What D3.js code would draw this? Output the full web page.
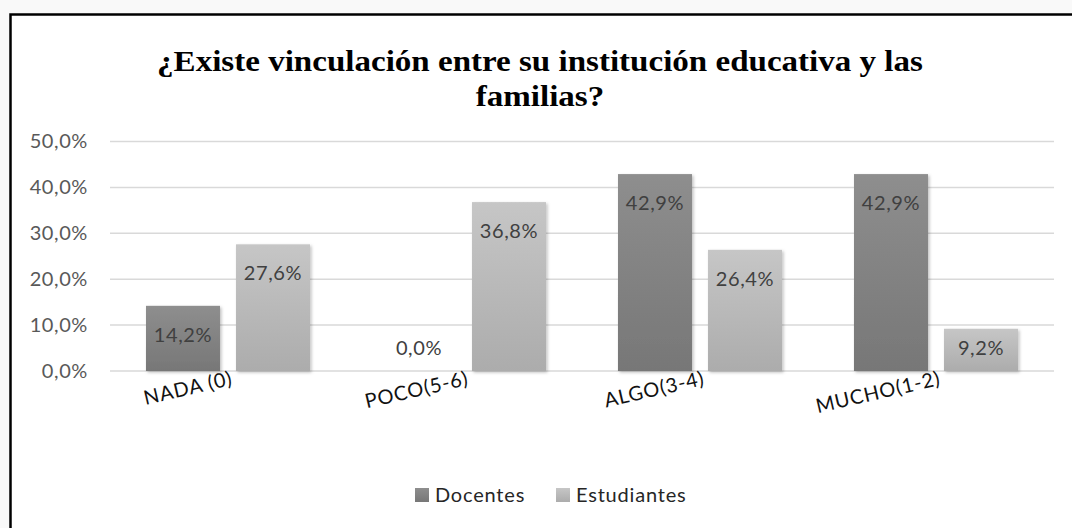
<!DOCTYPE html>
<html>
<head>
<meta charset="utf-8">
<script src="https://cdn.jsdelivr.net/npm/d3@7"></script>
<style>
  html, body { margin: 0; padding: 0; background: #f9f9f9; }
  svg { display: block; }
</style>
</head>
<body>
<svg id="chart" width="1072" height="528"></svg>
<script>
const categories = ["NADA (0)", "POCO(5-6)", "ALGO(3-4)", "MUCHO(1-2)"];
const seriesNames = ["Docentes", "Estudiantes"];
const docentes = [14.2, 0.0, 42.9, 42.9];
const estudiantes = [27.6, 36.8, 26.4, 9.2];
const yTicks = [0, 10, 20, 30, 40, 50];
const titleLines = ["¿Existe vinculación entre su institución educativa y las", "familias?"];

const svg = d3.select("#chart");
const fmt = v => v.toFixed(1).replace(".", ",") + "%";
const sansFont = "Lato, 'Open Sans', sans-serif";

// gradients
const defs = svg.append("defs");
const grads = [
  { id: "gDoc", top: "#8e8e8e", bottom: "#777777" },
  { id: "gEst", top: "#c6c6c6", bottom: "#acacac" }
];
grads.forEach(g => {
  const lg = defs.append("linearGradient").attr("id", g.id)
    .attr("x1", 0).attr("y1", 0).attr("x2", 0).attr("y2", 1);
  lg.append("stop").attr("offset", "0%").attr("stop-color", g.top);
  lg.append("stop").attr("offset", "100%").attr("stop-color", g.bottom);
});
const sh = defs.append("filter").attr("id", "shadow").attr("x", "-20%").attr("y", "-20%").attr("width", "140%").attr("height", "140%");
sh.append("feDropShadow").attr("dx", 1.5).attr("dy", 1.5).attr("stdDeviation", 1.5).attr("flood-color", "#000").attr("flood-opacity", 0.25);

// frame
svg.append("rect").attr("x", 10.5).attr("y", 14.5).attr("width", 1100).attr("height", 600)
  .attr("fill", "#ffffff").attr("stroke", "#000").attr("stroke-width", 2.5);

// title (reference is horizontally stretched)
const title = svg.append("text").attr("text-anchor", "middle")
  .attr("transform", "translate(540,0) scale(1.14,1)")
  .attr("font-family", "'Liberation Serif', 'Times New Roman', serif")
  .attr("font-weight", "bold").attr("font-size", 29).attr("fill", "#000");
titleLines.forEach((t, i) => {
  title.append("tspan").attr("x", 0).attr("y", 71 + i * 35).text(t);
});

const x0 = d3.scaleBand().domain(categories).range([110, 1054]).paddingInner(0.305).paddingOuter(0.1525);
const x1 = d3.scaleBand().domain(seriesNames).range([0, x0.bandwidth()]).paddingInner(0.178).paddingOuter(0);
const y = d3.scaleLinear().domain([0, 50]).range([371, 141.5]);

// gridlines
svg.append("g").selectAll("line").data(yTicks).join("line")
  .attr("x1", 110).attr("x2", 1054)
  .attr("y1", d => y(d)).attr("y2", d => y(d))
  .attr("stroke", "#d9d9d9").attr("stroke-width", 1.5);

// y axis labels
const yAxis = d3.axisLeft(y).tickValues(yTicks).tickFormat(fmt).tickSize(0).tickPadding(0);
const gy = svg.append("g").attr("transform", "translate(88,0)").call(yAxis);
gy.select(".domain").remove();
gy.selectAll("text").attr("font-family", sansFont).attr("font-size", 20)
  .attr("letter-spacing", 0.6).attr("fill", "#595959");

// bars
const data = categories.map((c, i) => ({ cat: c, vals: [
  { s: "Docentes", v: docentes[i], g: "gDoc" },
  { s: "Estudiantes", v: estudiantes[i], g: "gEst" }
]}));
const groups = svg.append("g").selectAll("g").data(data).join("g")
  .attr("transform", d => `translate(${x0(d.cat)},0)`);
groups.selectAll("rect").data(d => d.vals).join("rect")
  .attr("x", d => x1(d.s)).attr("width", x1.bandwidth())
  .attr("y", d => y(d.v)).attr("height", d => y(0) - y(d.v))
  .attr("fill", d => `url(#${d.g})`)
  .attr("filter", "url(#shadow)");
groups.selectAll("text").data(d => d.vals).join("text")
  .attr("x", d => x1(d.s) + x1.bandwidth() / 2)
  .attr("y", d => Math.min(y(d.v) + 29, y(0) - 23))
  .attr("dy", "0.35em")
  .attr("text-anchor", "middle")
  .attr("font-family", sansFont).attr("font-size", 20).attr("letter-spacing", 0.6).attr("fill", "#404040")
  .text(d => fmt(d.v));

// x axis labels
const xAxis = d3.axisBottom(x0).tickSize(0).tickPadding(0);
const gx = svg.append("g").attr("transform", "translate(0,369)").call(xAxis);
gx.select(".domain").remove();
gx.selectAll("text")
  .attr("font-family", sansFont).attr("font-size", 20).attr("letter-spacing", 0.8).attr("fill", "#111")
  .attr("text-anchor", "end").attr("dy", "0.8em")
  .attr("transform", "translate(2,0) rotate(-13)");

// legend
const legend = svg.append("g");
const legendItems = [
  { s: "Docentes", g: "gDoc", x: 415 },
  { s: "Estudiantes", g: "gEst", x: 556 }
];
legendItems.forEach(it => {
  legend.append("rect").attr("x", it.x).attr("y", 488).attr("width", 14).attr("height", 14)
    .attr("fill", `url(#${it.g})`);
  legend.append("text").attr("x", it.x + 20).attr("y", 495).attr("dy", "0.35em")
    .attr("font-family", sansFont).attr("font-size", 20).attr("letter-spacing", 0.8).attr("fill", "#262626")
    .text(it.s);
});
</script>
</body>
</html>
